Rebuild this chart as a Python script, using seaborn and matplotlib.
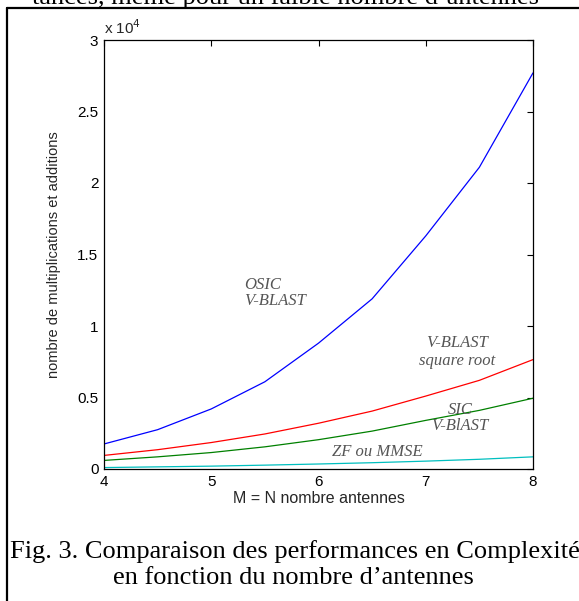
import numpy as np
import pandas as pd
import matplotlib
matplotlib.use("Agg")
import matplotlib.pyplot as plt
import matplotlib.ticker as mticker
from matplotlib.lines import Line2D
import seaborn as sns

# values (number of operations)
antennes = [4, 4.5, 5, 5.5, 6, 6.5, 7, 7.5, 8]
osic_vblast = [1750, 2750, 4200, 6100, 8800, 11900, 16300, 21100, 27700]
vblast_sqrt = [950, 1350, 1850, 2450, 3200, 4050, 5100, 6200, 7650]
sic_vblast = [600, 850, 1150, 1550, 2050, 2650, 3400, 4100, 4950]
zf_mmse = [100, 150, 200, 270, 350, 440, 550, 680, 850]

series = {
    "OSIC V-BLAST": osic_vblast,
    "V-BLAST square root": vblast_sqrt,
    "SIC V-BLAST": sic_vblast,
    "ZF ou MMSE": zf_mmse,
}
colors = {
    "OSIC V-BLAST": "#0000ff",
    "V-BLAST square root": "#ff0000",
    "SIC V-BLAST": "#008000",
    "ZF ou MMSE": "#00bfbf",
}

rows = []
for name, vals in series.items():
    for m, v in zip(antennes, vals):
        rows.append({"M": m, "ops": v, "algo": name})
df = pd.DataFrame(rows)

sns.set_style("white")
plt.rcParams["font.family"] = ["Liberation Sans", "DejaVu Sans"]

W, H = 579, 601
fig = plt.figure(figsize=(W / 100, H / 100), dpi=100)
ax = fig.add_axes([104 / W, 1 - 469 / H, (533 - 104) / W, (469 - 40) / H])

sns.lineplot(data=df, x="M", y="ops", hue="algo", palette=colors,
             linewidth=0.9, legend=False, ax=ax)

ax.set_xlim(4, 8)
ax.set_ylim(0, 30000)
ax.set_xticks([4, 5, 6, 7, 8])
ax.set_yticks(np.arange(0, 30001, 5000))
ax.yaxis.set_major_formatter(mticker.FuncFormatter(lambda v, p: "{:g}".format(v / 1e4)))
ax.tick_params(direction="in", length=4, width=0.8, top=True, right=True,
               labelsize=11, colors="black", pad=4)
for s in ax.spines.values():
    s.set_color("black")
    s.set_linewidth(0.9)
ax.set_xlabel("M = N nombre antennes", fontsize=11.5, labelpad=2)
ax.set_ylabel("nombre de multiplications et additions", fontsize=10.5, labelpad=12)

fig.text(104 / W, 1 - 34 / H, "x 10$^4$", fontsize=11, ha="left", va="baseline")

# curve labels
lab = dict(fontsize=12, family="Liberation Serif", style="italic", color="#555555")
ax.text(5.31, 12300, "OSIC\nV-BLAST", ha="left", va="center", linespacing=1.0, **lab)
ax.text(7.29, 8200, "V-BLAST\nsquare root", ha="center", va="center", linespacing=1.2, **lab)
ax.text(7.32, 3600, "SIC\nV-BlAST", ha="center", va="center", linespacing=1.0, **lab)
ax.text(6.55, 1200, "ZF ou MMSE", ha="center", va="center", **lab)

# page context: frame, cut text above and caption below
serif = dict(family="Liberation Serif", color="black")
fig.text(32 / W, 1 - 4 / H, "tances, même pour un faible nombre d\u2019antennes",
         fontsize=19, ha="left", va="baseline", **serif)
fig.text(10 / W, 1 - 558 / H, "Fig. 3. Comparaison des performances en Complexité",
         fontsize=19, ha="left", va="baseline", **serif)
fig.text(113 / W, 1 - 584 / H, "en fonction du nombre d\u2019antennes",
         fontsize=19, ha="left", va="baseline", **serif)
fig.add_artist(Line2D([7 / W, 7 / W], [0, 1 - 8 / H], transform=fig.transFigure,
                      color="black", linewidth=1.6))
fig.add_artist(Line2D([7 / W, 1], [1 - 8 / H, 1 - 8 / H], transform=fig.transFigure,
                      color="black", linewidth=1.6))

fig.savefig("out.png", dpi=100)
